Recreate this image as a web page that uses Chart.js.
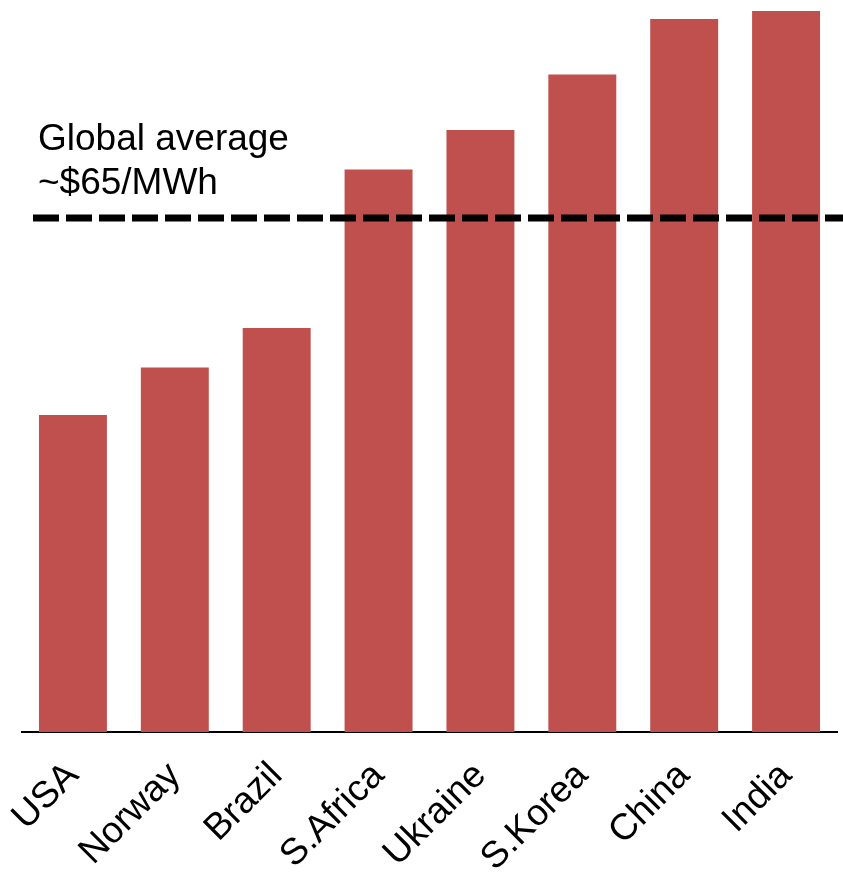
<!DOCTYPE html>
<html>
<head>
<meta charset="utf-8">
<script src="https://cdn.jsdelivr.net/npm/chart.js@4"></script>
<style>
  html, body { margin: 0; padding: 0; background: #fff; }
  canvas { display: block; }
</style>
</head>
<body>
<canvas id="costChart" width="843" height="872"></canvas>
<script>
const countries = ['USA', 'Norway', 'Brazil', 'S.Africa', 'Ukraine', 'S.Korea', 'China', 'India'];
const costs = [40, 46, 51, 71, 76, 83, 90, 91];
const globalAverage = 65;
const averageLabel = ['Global average', '~$65/MWh'];

const fontFamily = '"Liberation Sans", Arial, Helvetica, sans-serif';

// dashed reference line plus its two-line caption
const averageLine = {
    id: 'averageLine',
    afterDatasetsDraw(chart) {
        const ctx = chart.ctx;
        const y = chart.scales.y.getPixelForValue(globalAverage) + 1;
        const left = chart.chartArea.left;
        ctx.save();
        ctx.strokeStyle = '#000';
        ctx.lineWidth = 7;
        ctx.setLineDash([26, 7]);
        ctx.beginPath();
        ctx.moveTo(left + 11, y);
        ctx.lineTo(chart.width, y);
        ctx.stroke();
        ctx.setLineDash([]);
        ctx.fillStyle = '#000';
        ctx.font = '37px ' + fontFamily;
        ctx.textBaseline = 'alphabetic';
        ctx.fillText(averageLabel[0], left + 16, y - 68);
        ctx.fillText(averageLabel[1], left + 16, y - 24);
        ctx.restore();
    }
};

const ctx = document.getElementById('costChart').getContext('2d');
new Chart(ctx, {
    type: 'bar',
    data: {
        labels: countries,
        datasets: [{
            data: costs,
            backgroundColor: '#c0504d',
            barPercentage: 0.667,
            categoryPercentage: 1.0
        }]
    },
    options: {
        responsive: false,
        animation: false,
        layout: { padding: { left: 22, right: 6, top: 0, bottom: 0 } },
        plugins: {
            legend: { display: false },
            tooltip: { enabled: false }
        },
        scales: {
            x: {
                grid: { display: false },
                border: { display: true, color: '#000', width: 2 },
                ticks: {
                    color: '#000',
                    font: { size: 37, family: fontFamily },
                    maxRotation: 45,
                    minRotation: 45,
                    autoSkip: false,
                    padding: 14
                },
                afterFit(scale) { scale.height = 140; }
            },
            y: {
                display: false,
                min: 0,
                max: 92.4
            }
        }
    },
    plugins: [averageLine]
});
</script>
</body>
</html>
